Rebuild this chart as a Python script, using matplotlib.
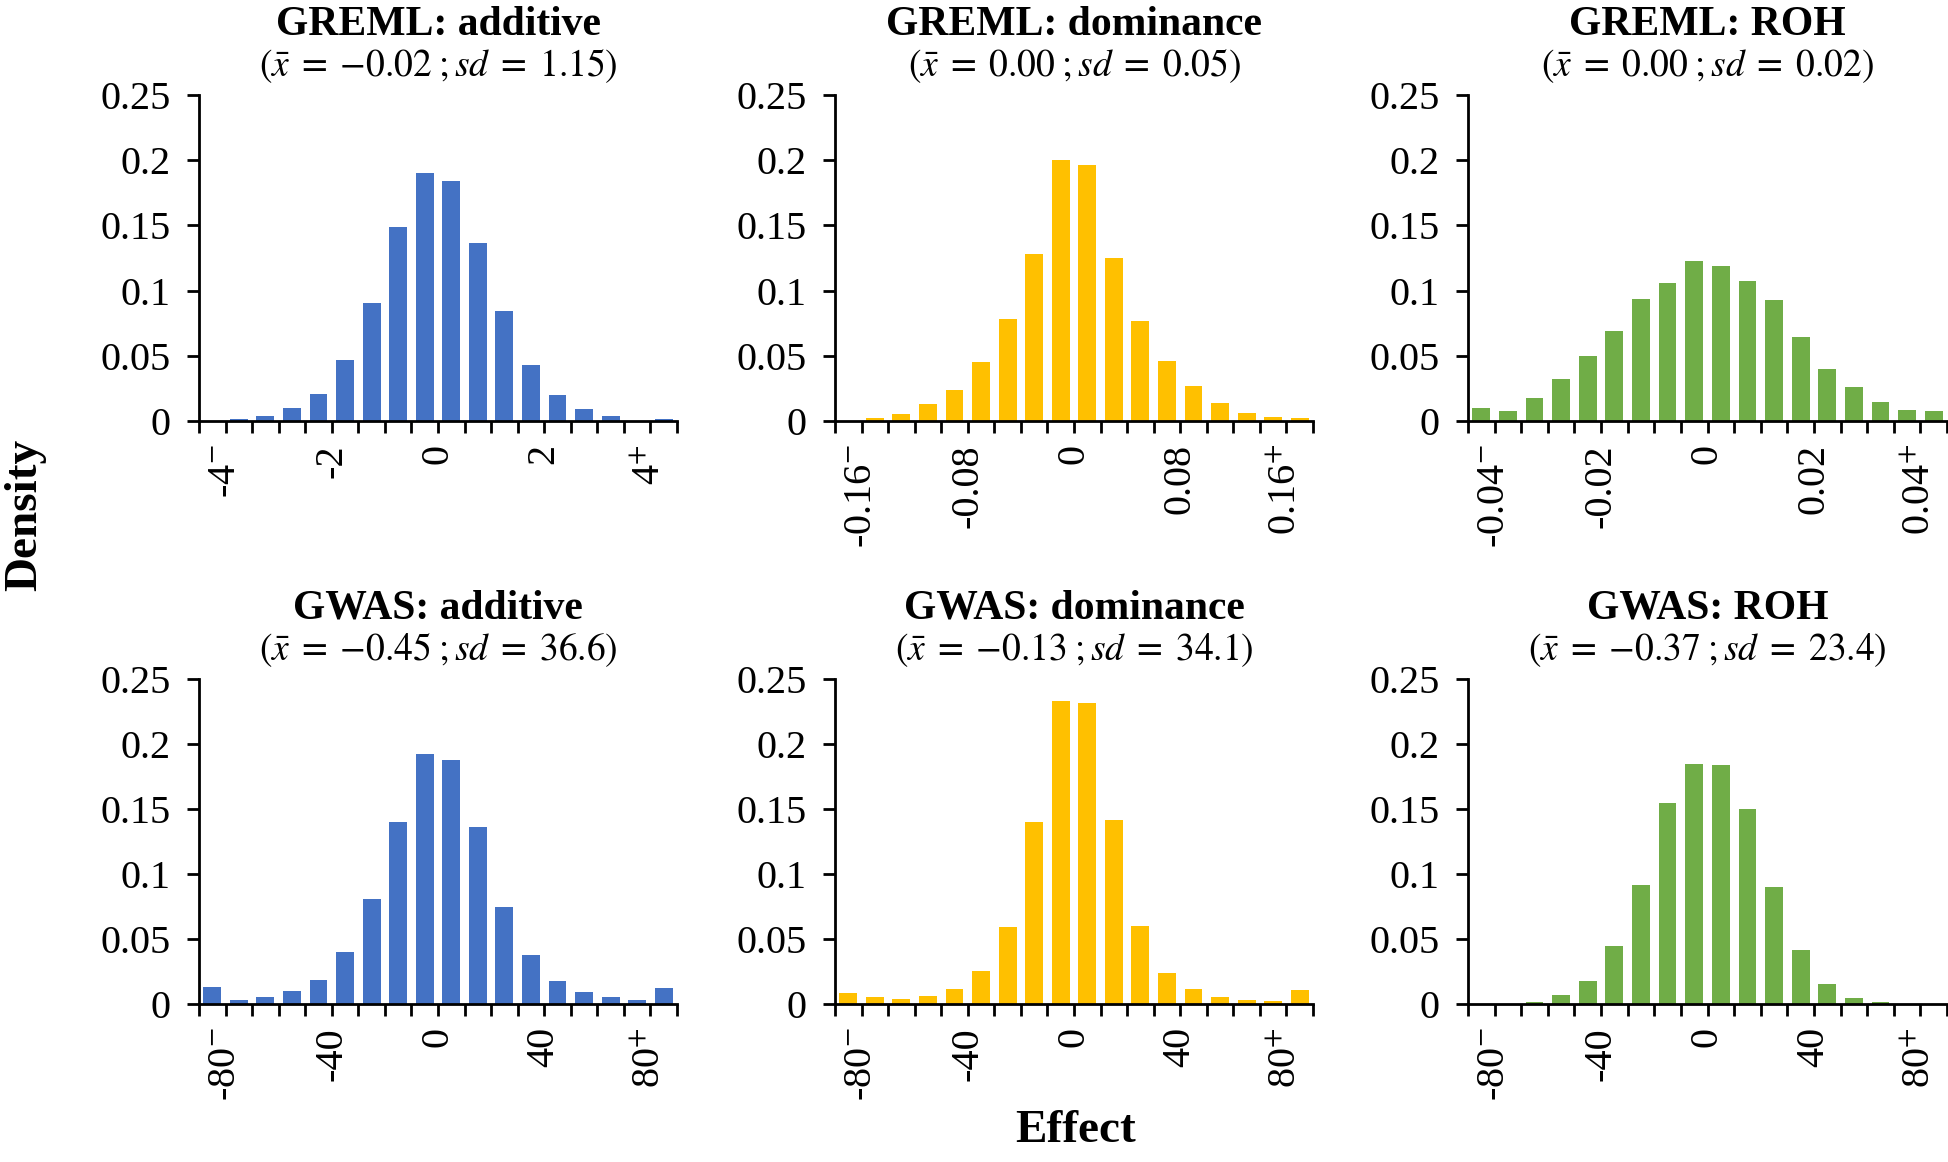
import numpy as np
import matplotlib.pyplot as plt

plt.rcParams['font.family'] = ['Liberation Serif', 'DejaVu Serif']
plt.rcParams['mathtext.fontset'] = 'stix'

# panel titles and summary lines
titles = ['GREML: additive', 'GREML: dominance', 'GREML: ROH',
          'GWAS: additive', 'GWAS: dominance', 'GWAS: ROH']
subtitles = [r'$(\bar{x}\;=\;{-}0.02\;;sd\;=\;1.15)$',
             r'$(\bar{x}\;=\;0.00\;;sd\;=\;0.05)$',
             r'$(\bar{x}\;=\;0.00\;;sd\;=\;0.02)$',
             r'$(\bar{x}\;=\;{-}0.45\;;sd\;=\;36.6)$',
             r'$(\bar{x}\;=\;{-}0.13\;;sd\;=\;34.1)$',
             r'$(\bar{x}\;=\;{-}0.37\;;sd\;=\;23.4)$']

# densities per bin (18 bins each)
greml_add = [0, 0.0019, 0.0041, 0.0096, 0.021, 0.0467, 0.0907, 0.149, 0.190,
             0.1844, 0.1363, 0.0842, 0.0429, 0.020, 0.009, 0.0041, 0, 0.0016]
greml_dom = [0, 0.002, 0.0054, 0.013, 0.024, 0.045, 0.078, 0.128, 0.200,
             0.196, 0.125, 0.077, 0.046, 0.027, 0.0135, 0.006, 0.003, 0.002]
greml_roh = [0.0102, 0.0074, 0.0179, 0.0319, 0.0495, 0.0694, 0.0939, 0.106, 0.123,
             0.1186, 0.1077, 0.0929, 0.0648, 0.0395, 0.0263, 0.0148, 0.0082, 0.0074]
gwas_add = [0.0131, 0.0031, 0.0056, 0.010, 0.0184, 0.040, 0.081, 0.140, 0.192,
            0.188, 0.1365, 0.0748, 0.0377, 0.0179, 0.009, 0.0051, 0.0033, 0.0126]
gwas_dom = [0.0087, 0.0054, 0.0038, 0.0061, 0.0118, 0.0251, 0.0592, 0.140, 0.233,
            0.2318, 0.1419, 0.0599, 0.0238, 0.0118, 0.0056, 0.0033, 0.0026, 0.0108]
gwas_roh = [0, 0, 0.0018, 0.0072, 0.0179, 0.0448, 0.0917, 0.1547, 0.1847,
            0.1842, 0.150, 0.0897, 0.0415, 0.0154, 0.0049, 0.0018, 0, 0]

# tick labels at bin boundaries 1, 5, 9, 13, 17
xlabels = [[r'-4$^{-}$', '-2', '0', '2', r'4$^{+}$'],
           [r'-0.16$^{-}$', '-0.08', '0', '0.08', r'0.16$^{+}$'],
           [r'-0.04$^{-}$', '-0.02', '0', '0.02', r'0.04$^{+}$'],
           [r'-80$^{-}$', '-40', '0', '40', r'80$^{+}$'],
           [r'-80$^{-}$', '-40', '0', '40', r'80$^{+}$'],
           [r'-80$^{-}$', '-40', '0', '40', r'80$^{+}$']]
label_bounds = [1, 5, 9, 13, 17]

yticks = [0, 0.05, 0.1, 0.15, 0.2, 0.25]
ylabels = ['0', '0.05', '0.1', '0.15', '0.2', '0.25']

colors = ['#4472C4', '#FFC000', '#70AD47']
data = [greml_add, greml_dom, greml_roh, gwas_add, gwas_dom, gwas_roh]

W, H = 1948, 1162
fig = plt.figure(figsize=(W / 100, H / 100), dpi=100)

lefts = [199, 835, 1468]
widths = [478, 478, 479]
rows = [(95, 421), (679, 1004)]

for k in range(6):
    r, c = divmod(k, 3)
    top, bot = rows[r]
    ax = fig.add_axes([lefts[c] / W, 1 - bot / H, widths[c] / W, (bot - top) / H])
    vals = data[k]
    x = np.arange(len(vals))
    ax.bar(x, vals, width=0.67, color=colors[c], zorder=2)
    ax.set_xlim(-0.5, len(vals) - 0.5)
    ax.set_ylim(0, 0.25)

    ax.set_xticks(np.arange(len(vals) + 1) - 0.5)
    labs = [''] * (len(vals) + 1)
    for b, t in zip(label_bounds, xlabels[k]):
        labs[b] = t
    ax.set_xticklabels(labs, rotation=90, fontsize=29)
    ax.set_yticks(yticks)
    ax.set_yticklabels(ylabels, fontsize=29)

    for s in ['top', 'right']:
        ax.spines[s].set_visible(False)
    for s in ['left', 'bottom']:
        ax.spines[s].set_linewidth(2)
    ax.tick_params(axis='x', length=8.5, width=2, pad=8)
    ax.tick_params(axis='y', length=8.5, width=2, pad=12)

    ax.text(0.5, 1.0 + (70 / (bot - top)), titles[k], transform=ax.transAxes,
            ha='center', va='center', fontsize=30, fontweight='bold')
    ax.text(0.5, 1.0 + (29 / (bot - top)), subtitles[k], transform=ax.transAxes,
            ha='center', va='center', fontsize=27)

fig.text(25 / W, 1 - 515 / H, 'Density', rotation=90, ha='center', va='center',
         fontsize=34, fontweight='bold')
fig.text(1076 / W, 1 - 1131 / H, 'Effect', ha='center', va='center',
         fontsize=34, fontweight='bold')

fig.savefig('out.png', dpi=100)
